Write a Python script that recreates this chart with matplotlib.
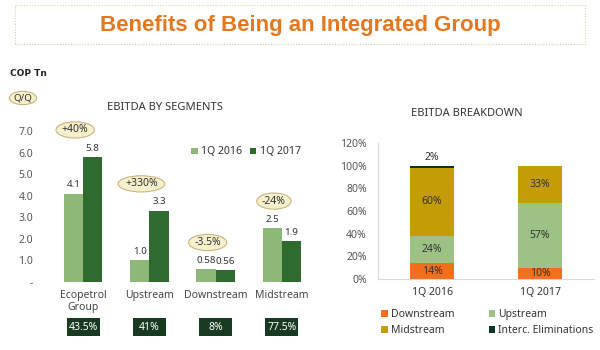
import matplotlib

matplotlib.use("Agg")
import matplotlib.pyplot as plt
from matplotlib.patches import Rectangle
import numpy as np

plt.rcParams["font.family"] = ["Noto Sans", "DejaVu Sans"]

# ── data ────────────────────────────────────────────────────────────────────
segments = ["Ecopetrol\nGroup", "Upstream", "Downstream", "Midstream"]
ebitda_2016 = [4.1, 1.0, 0.58, 2.5]
ebitda_2017 = [5.8, 3.3, 0.56, 1.9]
change_qq = ["+40%", "+330%", "-3.5%", "-24%"]
margin_2017 = ["43.5%", "41%", "8%", "77.5%"]
seg_yticks = [0, 1, 2, 3, 4, 5, 6, 7]

periods = ["1Q 2016", "1Q 2017"]
share_downstream = [14, 10]
share_upstream = [24, 57]
share_midstream = [60, 33]
share_interc = [2, 0]

# ── colours ─────────────────────────────────────────────────────────────────
LIGHT_GREEN = "#8DB878"
DARK_GREEN = "#2F6B2F"
ORANGE = "#F36F1C"
UP_GREEN = "#9DC285"
MUSTARD = "#C39C06"
INTERC = "#0E3422"
BOX_GREEN = "#183A20"
BUBBLE_FACE = "#F7F0CC"
BUBBLE_EDGE = "#C8B47E"
TXT = "#333333"
TICK = "#555555"
BUBBLE = dict(boxstyle="ellipse,pad=0.02", fc=BUBBLE_FACE, ec=BUBBLE_EDGE, lw=0.8)

fig = plt.figure(figsize=(6, 3.5), dpi=100)
W, H = 600, 350


def px_axes(left, top, right, bottom):
    return fig.add_axes([left / W, 1 - bottom / H, (right - left) / W, (bottom - top) / H])


# ── title banner ────────────────────────────────────────────────────────────
fig.patches.append(Rectangle((15 / W, 1 - 44 / H), 570 / W, 39 / H, transform=fig.transFigure,
                             fill=False, edgecolor="#C9D6A0", linestyle=(0, (1, 1.5)), linewidth=0.8))
fig.text(0.5, 1 - 25 / H, "Benefits of Being an Integrated Group", ha="center", va="center",
         fontsize=16, fontweight="bold", color="#E5771F", family=["Liberation Sans", "DejaVu Sans"])

fig.text(10 / W, 1 - 73 / H, "COP Tn", ha="left", va="center", fontsize=6.5, fontweight="bold",
         color="#222222", family=["DejaVu Sans"])
fig.text(23 / W, 1 - 98 / H, "Q/Q", ha="center", va="center", fontsize=7, color="#333333", bbox=BUBBLE)

# ── left: EBITDA by segments ────────────────────────────────────────────────
ax = px_axes(50, 131, 315, 282)
x = np.arange(len(segments))
bw = 0.29
b16 = ax.bar(x - bw / 2, ebitda_2016, bw, color=LIGHT_GREEN, label="1Q 2016")
b17 = ax.bar(x + bw / 2, ebitda_2017, bw, color=DARK_GREEN, label="1Q 2017")
fmt = lambda v: f"{v:.2f}" if v < 1 else f"{v:.1f}"
for bars, vals in ((b16, ebitda_2016), (b17, ebitda_2017)):
    for b, v in zip(bars, vals):
        ax.text(b.get_x() + b.get_width() / 2, v + 0.2, fmt(v), ha="center", va="bottom",
                fontsize=7, color=TXT)

for i, lab in enumerate(change_qq):
    top = max(ebitda_2016[i], ebitda_2017[i])
    ax.text(i - 0.12, top + 1.25, lab, ha="center", va="center", fontsize=7.5, color=TXT,
            clip_on=False, bbox=BUBBLE)

for i, lab in enumerate(margin_2017):
    ax.add_patch(Rectangle((i - 0.25, -0.36), 0.5, 0.12, transform=ax.get_xaxis_transform(),
                           facecolor=BOX_GREEN, edgecolor="none", clip_on=False))
    ax.text(i, -0.30, lab, transform=ax.get_xaxis_transform(), ha="center", va="center",
            fontsize=7.5, color="white")

ax.set_xlim(-0.5, len(segments) - 0.5)
ax.set_ylim(0, 7)
ax.set_xticks(x)
ax.set_xticklabels(segments, fontsize=7.5, color="#444444", linespacing=1.1)
ax.set_yticks(seg_yticks)
ax.set_yticklabels(["-" if t == 0 else f"{t:.1f}" for t in seg_yticks], fontsize=7.5, color=TICK)
ax.tick_params(length=0, pad=12, axis="y")
ax.tick_params(length=0, pad=6, axis="x")
for s in ax.spines.values():
    s.set_visible(False)
ax.legend(loc="center", bbox_to_anchor=(246 / W, 1 - 152 / H), bbox_transform=fig.transFigure,
          ncol=2, frameon=False, fontsize=7.5, handlelength=0.6, handleheight=0.6,
          handletextpad=0.3, columnspacing=0.8, labelcolor=TXT)
fig.text(165 / W, 1 - 107 / H, "EBITDA BY SEGMENTS", ha="center", va="center", fontsize=8, color=TXT)

# ── right: EBITDA breakdown ─────────────────────────────────────────────────
ax2 = px_axes(378, 143, 594, 279)
xp = np.arange(len(periods))
bw2 = 0.4
stack = [("Downstream", share_downstream, ORANGE),
         ("Upstream", share_upstream, UP_GREEN),
         ("Midstream", share_midstream, MUSTARD),
         ("Interc. Eliminations", share_interc, INTERC)]
bottom = np.zeros(len(periods))
handles = {}
for name, vals, col in stack:
    vals = np.array(vals, dtype=float)
    h = ax2.bar(xp, vals, bw2, bottom=bottom, color=col, label=name)
    handles[name] = h
    for xi, b0, v in zip(xp, bottom, vals):
        if v <= 0:
            continue
        if v < 5:
            ax2.text(xi, b0 + v + 7, f"{v:.0f}%", ha="center", va="center", fontsize=7.5, color=TXT)
        else:
            ax2.text(xi, b0 + v / 2, f"{v:.0f}%", ha="center", va="center", fontsize=7.5, color=TXT)
    bottom += vals

ax2.set_xlim(-0.5, len(periods) - 0.5)
ax2.set_ylim(0, 120)
ax2.set_yticks(range(0, 121, 20))
ax2.set_yticklabels([f"{t}%" for t in range(0, 121, 20)], fontsize=7.5, color=TICK)
ax2.set_xticks(xp)
ax2.set_xticklabels(periods, fontsize=7.5, color=TXT)
ax2.tick_params(length=0, axis="both")
ax2.tick_params(axis="y", pad=8)
ax2.tick_params(axis="x", pad=6)
for s in ("top", "right"):
    ax2.spines[s].set_visible(False)
for s in ("left", "bottom"):
    ax2.spines[s].set_color("#D9D9D9")
    ax2.spines[s].set_linewidth(0.8)
order = ["Downstream", "Midstream", "Upstream", "Interc. Eliminations"]
fig.legend([handles[k] for k in order], order, loc="upper left",
           bbox_to_anchor=(372 / W, 1 - 300 / H), ncol=2, frameon=False, fontsize=7.5,
           handlelength=0.6, handleheight=0.6, handletextpad=0.3, columnspacing=3.3,
           labelspacing=0.45, labelcolor=TXT)
fig.text(467 / W, 1 - 113 / H, "EBITDA BREAKDOWN", ha="center", va="center", fontsize=8, color=TXT)

fig.savefig("out.png", dpi=100, facecolor="white")
